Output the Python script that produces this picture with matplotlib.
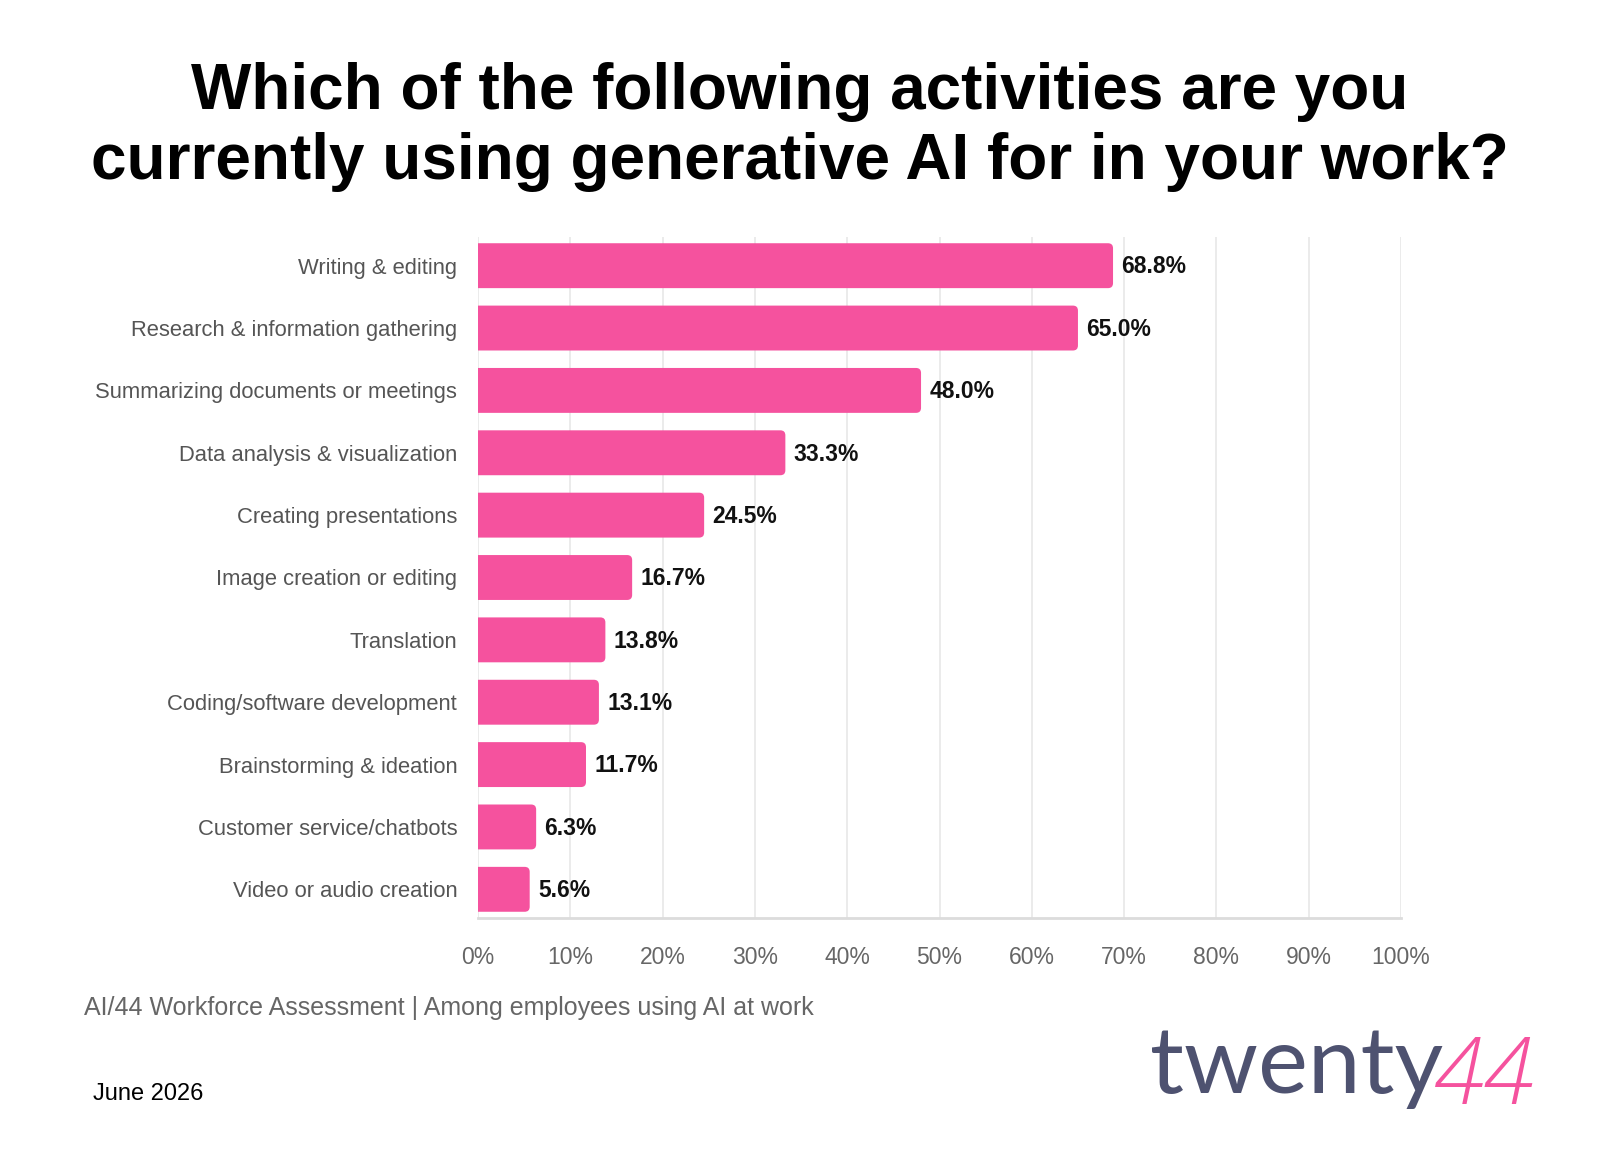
import matplotlib
matplotlib.use("Agg")
import matplotlib.pyplot as plt
from matplotlib.ticker import FixedLocator
from matplotlib.patches import FancyBboxPatch

categories = [
    "Writing & editing",
    "Research & information gathering",
    "Summarizing documents or meetings",
    "Data analysis & visualization",
    "Creating presentations",
    "Image creation or editing",
    "Translation",
    "Coding/software development",
    "Brainstorming & ideation",
    "Customer service/chatbots",
    "Video or audio creation",
]
values = [68.8, 65.0, 48.0, 33.3, 24.5, 16.7, 13.8, 13.1, 11.7, 6.3, 5.6]
tick_values = [0, 10, 20, 30, 40, 50, 60, 70, 80, 90, 100]
tick_labels = [f"{v}%" for v in tick_values]

title = "Which of the following activities are you\ncurrently using generative AI for in your work?"
source = "AI/44 Workforce Assessment | Among employees using AI at work"
date = "June 2026"

PINK = "#F5529E"
SANS = ["Liberation Sans", "DejaVu Sans"]
plt.rcParams["font.family"] = SANS

W, H = 1599, 1152
fig = plt.figure(figsize=(W/100, H/100), dpi=100)
fig.patch.set_facecolor("white")
ax_l, ax_r, ax_t, ax_b = 478, 1401, 237, 918
ax = fig.add_axes([ax_l/W, 1-ax_b/H, (ax_r-ax_l)/W, (ax_b-ax_t)/H])

y = list(range(len(categories)))
bars = ax.barh(y, values, height=0.72, color=PINK, edgecolor="none", zorder=3)
ax.set_ylim(len(categories) - 1 + 0.46, -0.46)
ax.set_xlim(0, 100)

# rounded right ends
px_per_x = (ax_r - ax_l) / 100.0
px_per_y = (ax_b - ax_t) / (len(categories) - 1 + 0.92)
rad = 5.0 / px_per_x
aspect = px_per_x / px_per_y
for b in bars:
    x0, y0, w, h = b.get_x(), b.get_y(), b.get_width(), b.get_height()
    b.set_visible(False)
    p = FancyBboxPatch((x0 - 2, y0), w + 2, h,
                       boxstyle=f"round,pad=0,rounding_size={rad}",
                       mutation_aspect=aspect, facecolor=PINK,
                       edgecolor="none", zorder=3, clip_on=True)
    ax.add_patch(p)
    p.set_clip_path(ax.patch)

ax.xaxis.set_major_locator(FixedLocator(tick_values))
ax.set_xticklabels(tick_labels)
ax.set_yticks(y)
ax.set_yticklabels(categories)
ax.grid(axis="x", color="#e8e8e8", linewidth=1.2, zorder=0)
for s in ["top", "right", "left"]:
    ax.spines[s].set_visible(False)
ax.spines["bottom"].set_color("#dcdcdc")
ax.spines["bottom"].set_linewidth(2)
ax.tick_params(axis="y", length=0, pad=15, labelsize=15.8, labelcolor="#555555")
ax.tick_params(axis="x", length=0, pad=20, labelsize=16.5, labelcolor="#666666")

for yi, v in zip(y, values):
    ax.text(v + 0.9, yi + 0.02, f"{v:.1f}%", va="center", ha="left", fontsize=16.5,
            fontweight="bold", color="#111111", zorder=4)

fig.text(0.5, 1-127/H, title, ha="center", va="center", fontsize=46,
         fontweight="bold", color="black", linespacing=1.22)
fig.text(84/W, 1-1008/H, source, ha="left", va="center", fontsize=18,
         color="#666666")
fig.text(93/W, 1-1094/H, date, ha="left", va="center", fontsize=17,
         color="black")

fig.text(1150/W, 1-1093/H, "twenty", ha="left", va="baseline",
         fontsize=68, color="#4E5270", family=["Lato", "DejaVu Sans"])
fig.text(1434/W, 1-1104/H, "44", ha="left", va="baseline",
         fontsize=66, color=PINK, style="italic", fontweight="light",
         family=["Open Sans", "DejaVu Sans"])

fig.savefig("out.png", dpi=100, facecolor="white")
